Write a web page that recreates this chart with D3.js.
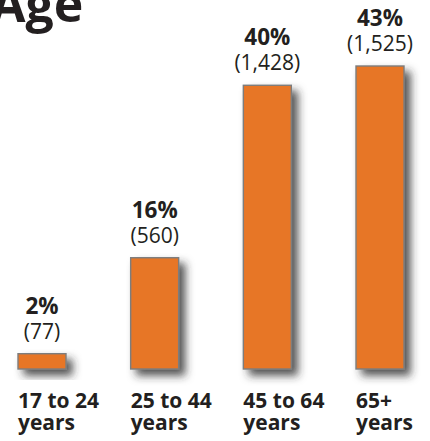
<!DOCTYPE html>
<html>
<head>
<meta charset="utf-8">
<script src="https://cdn.jsdelivr.net/npm/d3@7"></script>
<style>
  html, body { margin: 0; padding: 0; background: #fff; }
  svg { display: block; font-family: "Open Sans", sans-serif; }
</style>
</head>
<body>
<svg id="chart" width="430" height="441"></svg>
<script>
// chart values
const categories = ["17 to 24", "25 to 44", "45 to 64", "65+"];
const counts = [77, 560, 1428, 1525];
const percents = ["2%", "16%", "40%", "43%"];
const countLabels = ["(77)", "(560)", "(1,428)", "(1,525)"];

const width = 430, height = 441;
const baseY = 369;

let svg = d3.select("#chart");

// drop shadow under the bars
let defs = svg.append("defs");
let shadow = defs.append("filter")
	.attr("id", "shadow")
	.attr("x", "-30%").attr("y", "-30%")
	.attr("width", "200%").attr("height", "200%");
shadow.append("feDropShadow")
	.attr("dx", 6).attr("dy", 6)
	.attr("stdDeviation", 4)
	.attr("flood-color", "#2a2a2a")
	.attr("flood-opacity", 0.8);

let x = d3.scaleBand()
	.domain(categories)
	.range([18, 404])
	.paddingInner(0.574)
	.paddingOuter(0);

let y = d3.scaleLinear()
	.domain([0, 1525])
	.range([baseY, 66]);

svg.append("text")
	.attr("x", -9)
	.attr("y", 22)
	.attr("font-size", 50)
	.attr("font-weight", 700)
	.attr("fill", "#231f20")
	.text("Age");

let data = categories.map(function(c, i) {
	return { cat: c, qty: counts[i], pct: percents[i], lbl: countLabels[i] };
});

svg.selectAll("rect.bar")
	.data(data)
	.enter()
	.append("rect")
	.attr("class", "bar")
	.attr("x", function(d) { return x(d.cat); })
	.attr("y", function(d) { return y(d.qty); })
	.attr("width", x.bandwidth())
	.attr("height", function(d) { return baseY - y(d.qty); })
	.attr("fill", "#e77628")
	.attr("stroke", "#7d7d7d")
	.attr("stroke-width", 1.4)
	.attr("filter", "url(#shadow)");

// percent labels
svg.selectAll("text.pct")
	.data(data)
	.enter()
	.append("text")
	.attr("class", "pct")
	.attr("x", function(d) { return x(d.cat) + x.bandwidth() / 2; })
	.attr("y", function(d) { return y(d.qty) - 40; })
	.attr("text-anchor", "middle")
	.attr("font-size", 22.5)
	.attr("font-weight", 700)
	.attr("fill", "#231f20")
	.text(function(d) { return d.pct; });

// count labels
svg.selectAll("text.cnt")
	.data(data)
	.enter()
	.append("text")
	.attr("class", "cnt")
	.attr("x", function(d) { return x(d.cat) + x.bandwidth() / 2; })
	.attr("y", function(d) { return y(d.qty) - 15; })
	.attr("text-anchor", "middle")
	.attr("font-size", 21)
	.attr("fill", "#231f20")
	.text(function(d) { return d.lbl; });

// category labels, two lines under each bar
let cats = svg.selectAll("text.cat")
	.data(data)
	.enter()
	.append("text")
	.attr("class", "cat")
	.attr("x", function(d) { return x(d.cat); })
	.attr("y", 408)
	.attr("font-size", 21)
	.attr("font-weight", 700)
	.attr("fill", "#231f20");

cats.append("tspan")
	.attr("x", function(d) { return x(d.cat); })
	.text(function(d) { return d.cat; });

cats.append("tspan")
	.attr("x", function(d) { return x(d.cat); })
	.attr("dy", 22)
	.text("years");
</script>
</body>
</html>
